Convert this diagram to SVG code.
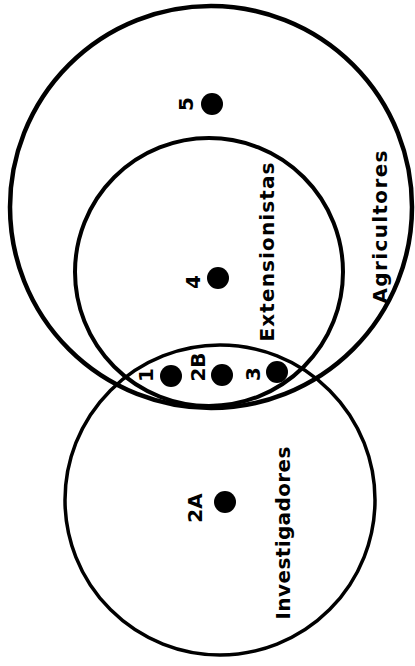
<svg xmlns="http://www.w3.org/2000/svg" width="415" height="666" viewBox="0 0 415 666">
<style>
.ring{fill:none;stroke:#000;stroke-width:4}
.dot{fill:#000}
.lbl{font-family:"DejaVu Sans","Liberation Sans",sans-serif;font-weight:bold;font-size:20px;fill:#000;text-anchor:middle}
</style>
<rect width="415" height="666" fill="#fff"/>
<g id="agricultores">
<circle class="ring" cx="211" cy="207" r="201" style="stroke-width:4.5"/>
<text class="lbl" transform="translate(387,227) rotate(-90)" textLength="153" lengthAdjust="spacing">Agricultores</text>
</g>
<g id="extensionistas">
<circle class="ring" cx="209" cy="272" r="134"/>
<text class="lbl" transform="translate(274,252) rotate(-90)" textLength="179" lengthAdjust="spacing">Extensionistas</text>
</g>
<g id="investigadores">
<circle class="ring" cx="220" cy="500" r="155" style="stroke-width:3.5"/>
<text class="lbl" transform="translate(290,533) rotate(-90)" textLength="173" lengthAdjust="spacing">Investigadores</text>
</g>
<g id="p5">
<circle class="dot" cx="212" cy="104" r="11"/>
<text class="lbl" transform="translate(193,104) rotate(-90)">5</text>
</g>
<g id="p4">
<circle class="dot" cx="218" cy="278" r="11"/>
<text class="lbl" transform="translate(200,282) rotate(-90)">4</text>
</g>
<g id="p1">
<circle class="dot" cx="171" cy="376" r="11"/>
<text class="lbl" transform="translate(153,375) rotate(-90)">1</text>
</g>
<g id="p2B">
<circle class="dot" cx="222" cy="375" r="11"/>
<text class="lbl" transform="translate(205,367) rotate(-90)">2B</text>
</g>
<g id="p3">
<circle class="dot" cx="277" cy="372" r="11"/>
<text class="lbl" transform="translate(260,374) rotate(-90)">3</text>
</g>
<g id="p2A">
<circle class="dot" cx="225" cy="502" r="11"/>
<text class="lbl" transform="translate(202,508) rotate(-90)">2A</text>
</g>
<g id="connectors"/>
</svg>
